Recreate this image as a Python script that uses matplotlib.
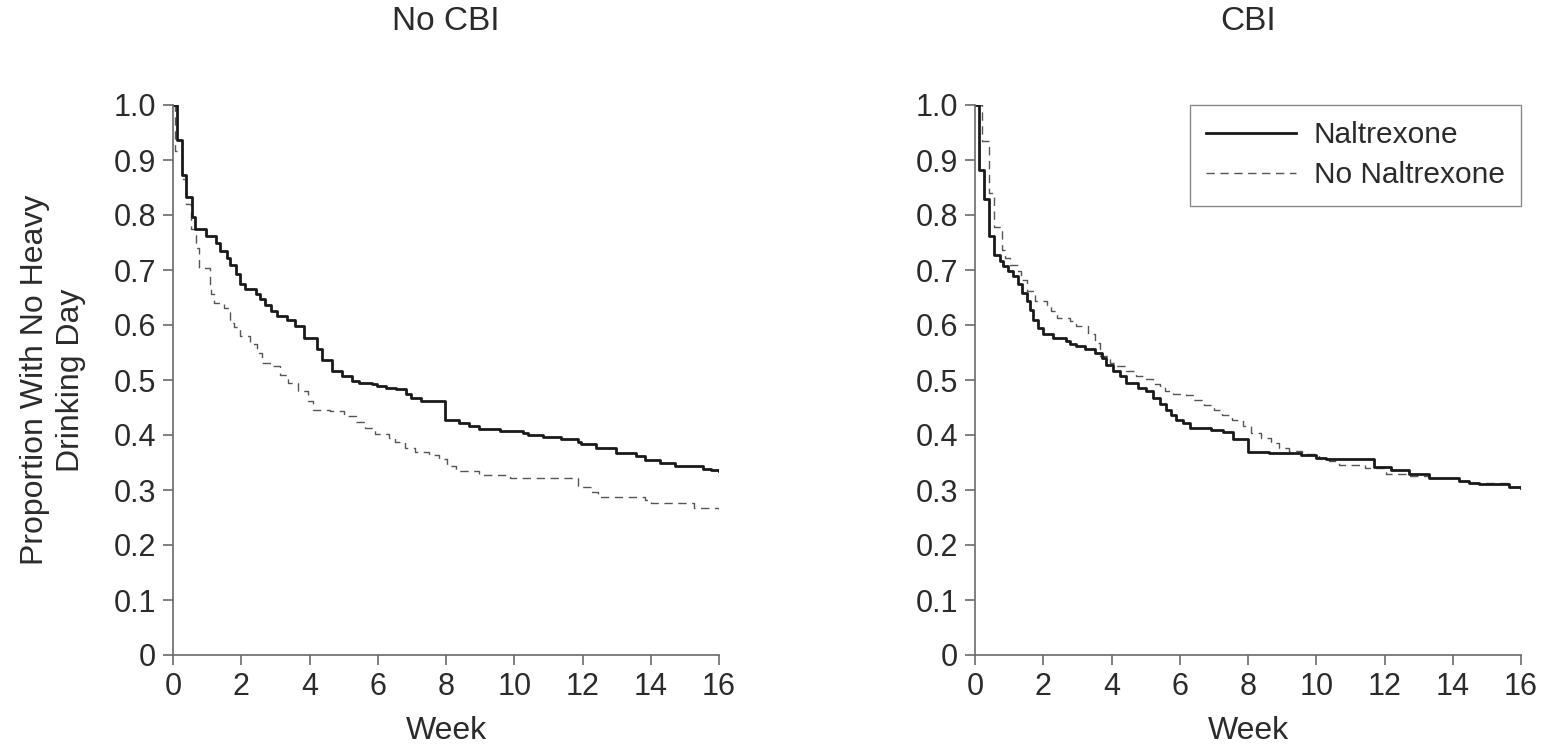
"""Kaplan-Meier style curves: proportion with no heavy drinking day, by CBI group."""
import matplotlib
matplotlib.use('Agg')
import matplotlib.pyplot as plt
from matplotlib.lines import Line2D

plt.rcParams['font.family'] = ['Liberation Sans', 'DejaVu Sans']

# ── data (weeks where the curve steps down, value after the step) ────────────
nocbi_nal_weeks = [0, 0.13, 0.25, 0.37, 0.55, 0.64, 0.96, 1.25, 1.39, 1.59, 1.68,
                   1.85, 1.96, 2.11, 2.42, 2.56, 2.71, 2.86, 3.05, 3.35, 3.57, 3.83,
                   4.22, 4.37, 4.65, 4.96, 5.25, 5.45, 5.84, 5.99, 6.23, 6.53, 6.82,
                   6.97, 7.26, 7.96, 8.39, 8.66, 8.96, 9.57, 10.25, 10.4, 10.84,
                   11.38, 11.86, 11.96, 12.4, 12.99, 13.57, 13.82, 14.26, 14.7,
                   15.53, 15.77, 16.0]
nocbi_nal_prop = [1.0, 0.937, 0.872, 0.832, 0.797, 0.775, 0.762, 0.75, 0.735, 0.722,
                  0.71, 0.692, 0.674, 0.666, 0.656, 0.647, 0.636, 0.625, 0.617, 0.61,
                  0.598, 0.577, 0.556, 0.537, 0.516, 0.508, 0.498, 0.494, 0.492,
                  0.489, 0.486, 0.483, 0.475, 0.468, 0.461, 0.428, 0.421, 0.417,
                  0.411, 0.407, 0.403, 0.400, 0.397, 0.392, 0.387, 0.383, 0.376,
                  0.367, 0.361, 0.354, 0.349, 0.343, 0.339, 0.336, 0.334]

nocbi_nonal_weeks = [0, 0.06, 0.25, 0.37, 0.52, 0.66, 0.76, 1.07, 1.12, 1.2, 1.5,
                     1.66, 1.8, 1.96, 2.26, 2.45, 2.6, 2.9, 3.14, 3.38, 3.67, 3.96,
                     4.1, 4.6, 5.0, 5.1, 5.35, 5.64, 5.93, 6.32, 6.52, 6.81, 7.1,
                     7.49, 7.79, 8.04, 8.28, 8.96, 9.89, 11.87, 12.26, 12.46, 13.83,
                     14.0, 15.27, 16.0]
nocbi_nonal_prop = [1.0, 0.917, 0.865, 0.82, 0.774, 0.74, 0.704, 0.665, 0.656, 0.64,
                    0.631, 0.604, 0.597, 0.58, 0.565, 0.55, 0.531, 0.525, 0.51, 0.495,
                    0.48, 0.461, 0.446, 0.443, 0.437, 0.434, 0.423, 0.412, 0.402,
                    0.394, 0.388, 0.376, 0.37, 0.364, 0.356, 0.343, 0.335, 0.328,
                    0.321, 0.305, 0.297, 0.288, 0.282, 0.277, 0.267, 0.264]

cbi_nal_weeks = [0, 0.13, 0.26, 0.42, 0.56, 0.73, 0.83, 0.97, 1.12, 1.27, 1.39, 1.51,
                 1.61, 1.7, 1.85, 1.98, 2.29, 2.68, 2.78, 2.97, 3.22, 3.51, 3.71,
                 3.85, 4.04, 4.24, 4.43, 4.78, 5.02, 5.21, 5.41, 5.6, 5.75, 5.9,
                 6.09, 6.29, 6.92, 7.26, 7.55, 7.99, 8.63, 9.55, 9.99, 10.28, 11.7,
                 12.19, 12.72, 13.3, 14.18, 14.47, 14.77, 15.65, 16.0]
cbi_nal_prop = [1.0, 0.881, 0.829, 0.762, 0.727, 0.716, 0.707, 0.698, 0.689, 0.674,
                0.659, 0.643, 0.628, 0.61, 0.595, 0.583, 0.577, 0.571, 0.565, 0.562,
                0.556, 0.55, 0.54, 0.528, 0.516, 0.507, 0.495, 0.486, 0.48, 0.468,
                0.456, 0.446, 0.437, 0.428, 0.422, 0.413, 0.41, 0.405, 0.392, 0.370,
                0.367, 0.363, 0.359, 0.356, 0.341, 0.336, 0.330, 0.321, 0.317,
                0.313, 0.311, 0.306, 0.304]

cbi_nonal_weeks = [0, 0.2, 0.4, 0.55, 0.8, 0.88, 1.02, 1.27, 1.36, 1.51, 1.75, 2.1,
                   2.24, 2.39, 2.78, 2.97, 3.3, 3.51, 3.65, 3.95, 4.14, 4.43, 4.73,
                   5.02, 5.22, 5.41, 5.56, 5.8, 6.19, 6.43, 6.72, 7.0, 7.25, 7.54,
                   7.84, 8.08, 8.37, 8.67, 8.9, 9.2, 9.59, 10.08, 10.37, 10.66,
                   11.44, 12.03, 12.72, 13.3, 14.18, 14.6, 15.65, 16.0]
cbi_nonal_prop = [1.0, 0.935, 0.84, 0.778, 0.736, 0.721, 0.709, 0.698, 0.682, 0.661,
                  0.643, 0.637, 0.625, 0.613, 0.607, 0.598, 0.583, 0.567, 0.543,
                  0.531, 0.525, 0.516, 0.507, 0.501, 0.492, 0.489, 0.48, 0.475,
                  0.472, 0.464, 0.455, 0.446, 0.437, 0.428, 0.416, 0.404, 0.394,
                  0.385, 0.376, 0.371, 0.366, 0.358, 0.352, 0.346, 0.34, 0.33,
                  0.326, 0.321, 0.317, 0.312, 0.306, 0.304]

panel_titles = ['No CBI', 'CBI']
series_labels = ['Naltrexone', 'No Naltrexone']
x_ticks = list(range(0, 17, 2))
y_ticks = [round(0.1 * i, 1) for i in range(11)]
y_ticklabels = ['0'] + [f'{v:.1f}' for v in y_ticks[1:]]

SPINE = '#6a6a6a'
TEXT = '#2b2b2b'
DASH = '#555555'
TICK_FS = 22
LABEL_FS = 23
TITLE_FS = 24
LEG_FS = 21.5

fig = plt.figure(figsize=(15.42, 7.47), dpi=100)
W, H = 1542, 747
axes = [fig.add_axes([173 / W, 1 - 655 / H, 546 / W, 550 / H]),
        fig.add_axes([975 / W, 1 - 655 / H, 546 / W, 550 / H])]

panels = [(nocbi_nal_weeks, nocbi_nal_prop, nocbi_nonal_weeks, nocbi_nonal_prop),
          (cbi_nal_weeks, cbi_nal_prop, cbi_nonal_weeks, cbi_nonal_prop)]

for ax, title, (xn, yn, xo, yo) in zip(axes, panel_titles, panels):
    ax.step(xo, yo, where='post', color=DASH, lw=1.0, linestyle=(0, (6, 4)))
    ax.step(xn, yn, where='post', color='#1a1a1a', lw=2.0)

    ax.set_xlim(0, 16)
    ax.set_ylim(0, 1.0)
    ax.set_xticks(x_ticks)
    ax.set_yticks(y_ticks)
    ax.set_yticklabels(y_ticklabels)
    for side in ['top', 'right']:
        ax.spines[side].set_visible(False)
    for side in ['left', 'bottom']:
        ax.spines[side].set_color(SPINE)
        ax.spines[side].set_linewidth(1.2)
    ax.tick_params(direction='out', length=7, width=1.2, color=SPINE,
                   labelsize=TICK_FS, labelcolor=TEXT, pad=5)
    ax.set_xlabel('Week', fontsize=LABEL_FS, color=TEXT, labelpad=10)

    # panel title, well above the axes
    bb = ax.get_position()
    fig.text((bb.x0 + bb.x1) / 2, 1 - 22 / H, title, ha='center', va='center',
             fontsize=TITLE_FS, color=TEXT)

axes[0].set_ylabel('Proportion With No Heavy\nDrinking Day', fontsize=LABEL_FS,
                   color=TEXT, linespacing=1.25, labelpad=20)

handles = [Line2D([], [], color='#1a1a1a', lw=2.0),
           Line2D([], [], color=DASH, lw=1.0, linestyle=(0, (6, 4)))]
leg = axes[1].legend(handles, series_labels, loc='upper right',
                     bbox_to_anchor=(1.0, 1.0), fontsize=LEG_FS, frameon=True,
                     fancybox=False, edgecolor=SPINE, handlelength=3.0,
                     handletextpad=0.6, labelspacing=0.4, borderpad=0.55,
                     borderaxespad=0.0)
leg.get_frame().set_linewidth(1.0)
for t in leg.get_texts():
    t.set_color(TEXT)

fig.savefig('out.png', dpi=100, facecolor='white')
